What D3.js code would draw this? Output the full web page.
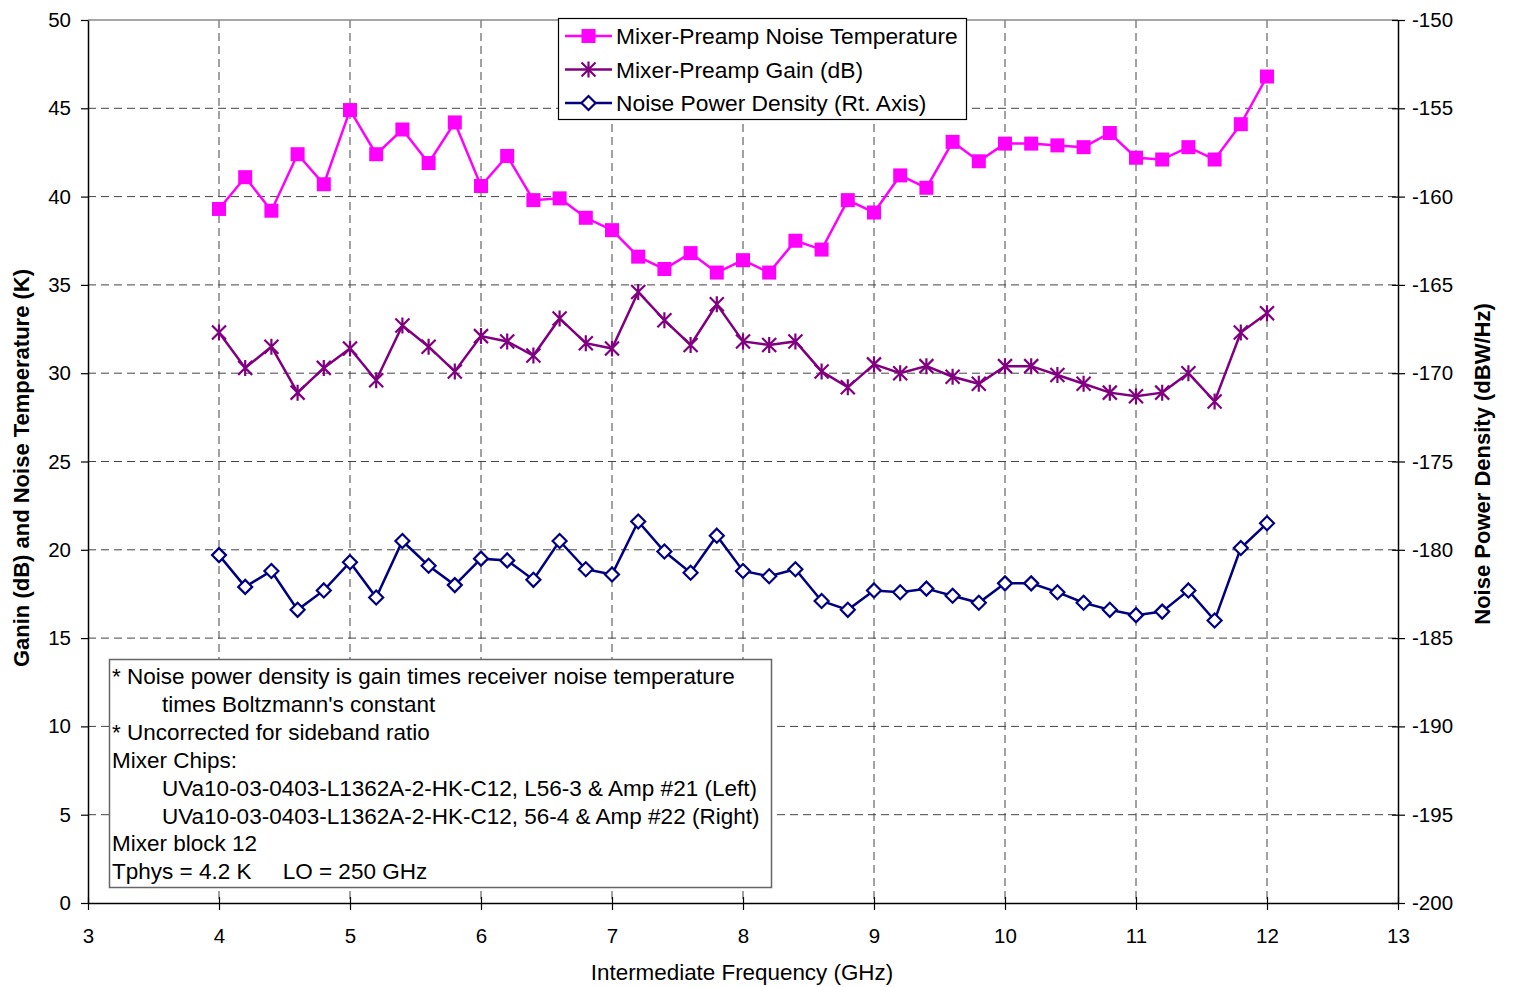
<!DOCTYPE html>
<html><head><meta charset="utf-8">
<script src="https://cdn.jsdelivr.net/npm/d3@7"></script>
<style>
body{margin:0;background:#fff;}
svg text{font-family:"Liberation Sans",Arial,sans-serif;white-space:pre;}
</style></head>
<body><svg id="c" width="1513" height="987"></svg>
<script>
const freqs = [4.0,4.2,4.4,4.6,4.8,5.0,5.2,5.4,5.6,5.8,6.0,6.2,6.4,6.6,6.8,7.0,7.2,7.4,7.6,7.8,8.0,8.2,8.4,8.6,8.8,9.0,9.2,9.4,9.6,9.8,10.0,10.2,10.4,10.6,10.8,11.0,11.2,11.4,11.6,11.8,12.0];
const noiseTemp = [39.3,41.1,39.2,42.4,40.7,44.9,42.4,43.8,41.9,44.2,40.6,42.3,39.8,39.9,38.8,38.1,36.6,35.9,36.8,35.7,36.4,35.7,37.5,37.0,39.8,39.1,41.2,40.5,43.1,42.0,43.0,43.0,42.9,42.8,43.6,42.2,42.1,42.8,42.1,44.1,46.8];
const gain = [32.3,30.3,31.5,28.9,30.3,31.4,29.6,32.7,31.5,30.1,32.1,31.8,31.0,33.1,31.7,31.4,34.6,33.0,31.6,33.9,31.8,31.6,31.8,30.1,29.2,30.5,30.0,30.4,29.8,29.4,30.4,30.4,29.9,29.4,28.9,28.7,28.9,30.0,28.4,32.3,33.4];
const noisePower = [-180.3,-182.1,-181.2,-183.4,-182.3,-180.7,-182.7,-179.5,-180.9,-182.0,-180.5,-180.6,-181.7,-179.5,-181.1,-181.4,-178.4,-180.1,-181.3,-179.2,-181.2,-181.5,-181.1,-182.9,-183.4,-182.3,-182.4,-182.2,-182.6,-183.0,-181.9,-181.9,-182.4,-183.0,-183.4,-183.7,-183.5,-182.3,-184.0,-179.9,-178.5];
const xTicks = [3,4,5,6,7,8,9,10,11,12,13];
const yLeftTicks = [0,5,10,15,20,25,30,35,40,45,50];
const yRightTicks = [-200,-195,-190,-185,-180,-175,-170,-165,-160,-155,-150];
const seriesNames = ["Mixer-Preamp Noise Temperature","Mixer-Preamp Gain (dB)","Noise Power Density (Rt. Axis)"];
const noteLines = [
 {t:"* Noise power density is gain times receiver noise temperature", indent:0},
 {t:"times Boltzmann's constant", indent:1},
 {t:"* Uncorrected for sideband ratio", indent:0},
 {t:"Mixer Chips:", indent:0},
 {t:"UVa10-03-0403-L1362A-2-HK-C12, L56-3 & Amp #21 (Left)", indent:1},
 {t:"UVa10-03-0403-L1362A-2-HK-C12, 56-4 & Amp #22 (Right)", indent:1},
 {t:"Mixer block 12", indent:0},
 {t:"Tphys = 4.2 K     LO = 250 GHz", indent:0}
];

const svg = d3.select("#c");
const L=88, R=1398, T=20, B=903;
const x = d3.scaleLinear().domain([3,13]).range([L,R]);
const yL = d3.scaleLinear().domain([0,50]).range([B,T]);
const yR = d3.scaleLinear().domain([-200,-150]).range([B,T]);

const colT="#FF00FF", colG="#800080", colN="#000080";

// gridlines
const grid = svg.append("g");
yLeftTicks.filter(v=>v>0&&v<50).forEach(v=>{
  grid.append("line").attr("x1",L).attr("x2",R).attr("y1",yL(v)).attr("y2",yL(v))
   .attr("stroke","#444").attr("stroke-width",1).attr("stroke-dasharray","8,5");
});
xTicks.filter(v=>v>3&&v<13).forEach(v=>{
  grid.append("line").attr("x1",x(v)).attr("x2",x(v)).attr("y1",T).attr("y2",B)
   .attr("stroke","#444").attr("stroke-width",1).attr("stroke-dasharray","8,5");
});
svg.append("line").attr("x1",L).attr("x2",R).attr("y1",T).attr("y2",T).attr("stroke","#888").attr("stroke-width",1.5);

// axes
const fs = "20.5px";
const fmt = d=>String(d);
const ax = svg.append("g").attr("transform",`translate(0,${B})`)
  .call(d3.axisBottom(x).tickValues(xTicks).tickFormat(fmt).tickSizeInner(7).tickSizeOuter(0).tickPadding(18));
ax.selectAll(".tick line").attr("y1",-6);
const ayl = svg.append("g").attr("transform",`translate(${L},0)`)
  .call(d3.axisLeft(yL).tickValues(yLeftTicks).tickFormat(fmt).tickSizeInner(7).tickSizeOuter(0).tickPadding(10));
const ayr = svg.append("g").attr("transform",`translate(${R},0)`)
  .call(d3.axisRight(yR).tickValues(yRightTicks).tickFormat(fmt).tickSizeInner(7).tickSizeOuter(0).tickPadding(7));
ayr.selectAll(".tick line").attr("x1",-6);
[ax,ayl,ayr].forEach(g=>{
  g.selectAll("text").attr("font-size",fs).attr("fill","#000").attr("font-family","Liberation Sans, Arial, sans-serif");
  g.select(".domain").attr("stroke","#000").attr("stroke-width",1.5);
  g.selectAll(".tick line").attr("stroke","#000").attr("stroke-width",1.2);
});

// axis titles
svg.append("text").attr("x",742).attr("y",980).attr("text-anchor","middle")
  .attr("font-size","22.4px").text("Intermediate Frequency (GHz)");
svg.append("text").attr("transform",`translate(29,468) rotate(-90)`).attr("text-anchor","middle")
  .attr("font-size","22px").attr("font-weight","bold").text("Ganin (dB) and Noise Temperature (K)");
svg.append("text").attr("transform",`translate(1490,464) rotate(-90)`).attr("text-anchor","middle")
  .attr("font-size","22px").attr("font-weight","bold").text("Noise Power Density (dBW/Hz)");

// series
const lineL = d3.line().x((d,i)=>x(freqs[i])).y(d=>yL(d));
const lineR = d3.line().x((d,i)=>x(freqs[i])).y(d=>yR(d));
svg.append("path").attr("d",lineL(noiseTemp)).attr("fill","none").attr("stroke",colT).attr("stroke-width",2.5);
svg.append("path").attr("d",lineL(gain)).attr("fill","none").attr("stroke",colG).attr("stroke-width",2.5);
svg.append("path").attr("d",lineR(noisePower)).attr("fill","none").attr("stroke",colN).attr("stroke-width",2.5);

function square(g,cx,cy){g.append("rect").attr("x",cx-7).attr("y",cy-7).attr("width",14).attr("height",14).attr("fill",colT);}
function star(g,cx,cy){
  const s=7;
  g.append("path").attr("d",`M${cx-s},${cy-s}L${cx+s},${cy+s}M${cx-s},${cy+s}L${cx+s},${cy-s}M${cx},${cy-s-1}L${cx},${cy+s+1}`)
   .attr("stroke",colG).attr("stroke-width",2.2).attr("fill","none");
}
function diamond(g,cx,cy){
  const s=7;
  g.append("path").attr("d",`M${cx},${cy-s}L${cx+s},${cy}L${cx},${cy+s}L${cx-s},${cy}Z`)
   .attr("stroke",colN).attr("stroke-width",2.2).attr("fill","#fff");
}
const mk = svg.append("g");
noiseTemp.forEach((v,i)=>square(mk,x(freqs[i]),yL(v)));
gain.forEach((v,i)=>star(mk,x(freqs[i]),yL(v)));
noisePower.forEach((v,i)=>diamond(mk,x(freqs[i]),yR(v)));

// legend
const lg = svg.append("g");
lg.append("rect").attr("x",558.5).attr("y",18.5).attr("width",408).attr("height",101).attr("fill","#fff").attr("stroke","#000").attr("stroke-width",1.2);
const markers=[square,star,diamond], cols=[colT,colG,colN];
seriesNames.forEach((n,i)=>{
  const cy = 36 + i*33.5;
  lg.append("line").attr("x1",565).attr("x2",612).attr("y1",cy).attr("y2",cy).attr("stroke",cols[i]).attr("stroke-width",2.5);
  markers[i](lg,588.5,cy);
  lg.append("text").attr("x",616).attr("y",cy+8).attr("font-size","22.8px").text(n);
});

// note box
const nb = svg.append("g");
nb.append("rect").attr("x",109.5).attr("y",659.5).attr("width",662).attr("height",228).attr("fill","#fff").attr("stroke","#666").attr("stroke-width",1.5);
noteLines.forEach((ln,i)=>{
  nb.append("text").attr("x",ln.indent?162:112).attr("y",684+i*27.9).attr("font-size","22.5px").text(ln.t);
});
</script></body></html>
